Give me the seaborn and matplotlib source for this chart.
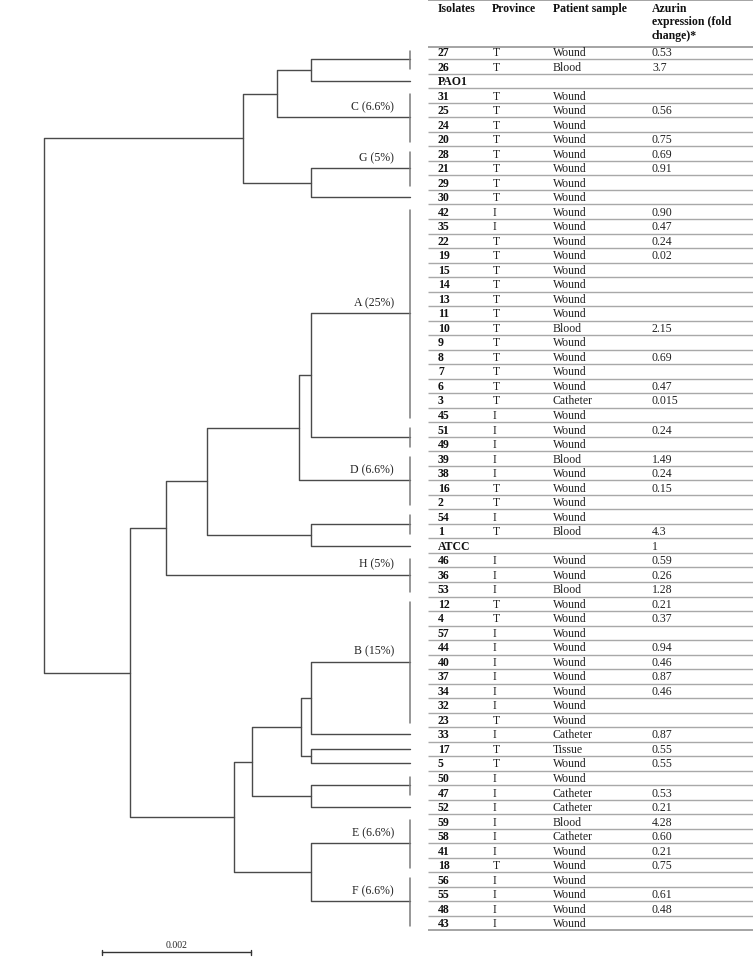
import numpy as np
import pandas as pd
import matplotlib.pyplot as plt
import seaborn as sns

# table rows, top to bottom (same order as the tree leaves)
isolates = ['27', '26', 'PAO1', '31', '25', '24', '20', '28', '21', '29', '30',
            '42', '35', '22', '19', '15', '14', '13', '11', '10', '9', '8', '7',
            '6', '3', '45', '51', '49', '39', '38', '16', '2', '54', '1', 'ATCC',
            '46', '36', '53', '12', '4', '57', '44', '40', '37', '34', '32', '23',
            '33', '17', '5', '50', '47', '52', '59', '58', '41', '18', '56', '55',
            '48', '43']
province = ['T', 'T', '', 'T', 'T', 'T', 'T', 'T', 'T', 'T', 'T',
            'I', 'I', 'T', 'T', 'T', 'T', 'T', 'T', 'T', 'T', 'T', 'T',
            'T', 'T', 'I', 'I', 'I', 'I', 'I', 'T', 'T', 'I', 'T', '',
            'I', 'I', 'I', 'T', 'T', 'I', 'I', 'I', 'I', 'I', 'I', 'T',
            'I', 'T', 'T', 'I', 'I', 'I', 'I', 'I', 'I', 'T', 'I', 'I',
            'I', 'I']
sample = ['Wound', 'Blood', '', 'Wound', 'Wound', 'Wound', 'Wound', 'Wound', 'Wound', 'Wound', 'Wound',
          'Wound', 'Wound', 'Wound', 'Wound', 'Wound', 'Wound', 'Wound', 'Wound', 'Blood', 'Wound', 'Wound', 'Wound',
          'Wound', 'Catheter', 'Wound', 'Wound', 'Wound', 'Blood', 'Wound', 'Wound', 'Wound', 'Wound', 'Blood', '',
          'Wound', 'Wound', 'Blood', 'Wound', 'Wound', 'Wound', 'Wound', 'Wound', 'Wound', 'Wound', 'Wound', 'Wound',
          'Catheter', 'Tissue', 'Wound', 'Wound', 'Catheter', 'Catheter', 'Blood', 'Catheter', 'Wound', 'Wound', 'Wound', 'Wound',
          'Wound', 'Wound']
azurin = ['0.53', '3.7', '', '', '0.56', '', '0.75', '0.69', '0.91', '', '',
          '0.90', '0.47', '0.24', '0.02', '', '', '', '', '2.15', '', '0.69', '',
          '0.47', '0.015', '', '0.24', '', '1.49', '0.24', '0.15', '', '', '4.3', '1',
          '0.59', '0.26', '1.28', '0.21', '0.37', '', '0.94', '0.46', '0.87', '0.46', '', '',
          '0.87', '0.55', '0.55', '', '0.53', '0.21', '4.28', '0.60', '0.21', '0.75', '', '0.61',
          '0.48', '']

# tree leaves = groups of consecutive rows (identical isolates collapsed)
leaf_sizes = [2, 1, 4, 3, 1, 15, 2, 4, 2, 1, 3, 9, 1, 1, 1, 2, 1, 4, 4]
cluster_names = {2: 'C (6.6%)', 3: 'G (5%)', 5: 'A (25%)', 7: 'D (6.6%)',
                 10: 'H (5%)', 11: 'B (15%)', 17: 'E (6.6%)', 18: 'F (6.6%)'}

# merges: (child a, child b, height in units of 0.001); new node ids start at 19
merges = [(0, 1, 1.33), (19, 2, 1.78), (3, 4, 1.33), (20, 21, 2.24),
          (5, 6, 1.33), (23, 7, 1.49), (8, 9, 1.33), (24, 25, 2.73),
          (26, 10, 3.28), (11, 12, 1.33), (13, 14, 1.33), (28, 29, 1.46),
          (15, 16, 1.33), (30, 31, 2.12), (17, 18, 1.33), (32, 33, 2.36),
          (27, 34, 3.76), (22, 35, 4.91)]
scale_len = 0.002

sns.set_style('white')
plt.rcParams['font.family'] = ['Liberation Serif', 'DejaVu Serif']

# leaf positions from the row layout
starts = np.concatenate([[0], np.cumsum(leaf_sizes)[:-1]])
ends = starts + np.array(leaf_sizes) - 1
node_y = list((starts + ends) / 2.0)
node_h = [0.0] * len(leaf_sizes)

segs = []
for k, (a, b, h) in enumerate(merges):
    h = h * 1e-3
    xs = [-node_h[a], -h, -h, -node_h[b]]
    ys = [node_y[a], node_y[a], node_y[b], node_y[b]]
    for i, (x, y) in enumerate(zip(xs, ys)):
        segs.append({'seg': k, 'order': i, 'x': x, 'y': y})
    node_y.append((node_y[a] + node_y[b]) / 2.0)
    node_h.append(h)
tree_df = pd.DataFrame(segs)

bars = []
for k, (s, e) in enumerate(zip(starts, ends)):
    if e > s:
        bars.append({'seg': k, 'x': 0.0, 'y': s - 0.1})
        bars.append({'seg': k, 'x': 0.0, 'y': e + 0.2})
bar_df = pd.DataFrame(bars)

W, H = 753, 979
fig = plt.figure(figsize=(W / 100, H / 100), dpi=100)
px = 74500.0  # pixels per unit distance
row0, rowstep = 53.0, 14.52
ylim = ((H - row0) / rowstep, -row0 / rowstep)

ax = fig.add_axes([0, 0, 1, 1])
sns.lineplot(data=tree_df, x='x', y='y', units='seg', estimator=None, sort=False,
             color='#4a4a4a', linewidth=1.0, ax=ax)
sns.lineplot(data=bar_df, x='x', y='y', units='seg', estimator=None, sort=False,
             color='#7a7a7a', linewidth=1.1, ax=ax)
ax.set_xlim(-410 / px, (W - 410) / px)
ax.set_ylim(*ylim)
ax.axis('off')

for k, name in cluster_names.items():
    ax.text(-16 / px, node_y[k] - 0.35, name, ha='right', va='bottom', fontsize=8.5, color='#222222')

# scale bar
sb_x0 = -308 / px
sb_y = (953 - row0) / rowstep
ax.plot([sb_x0, sb_x0 + scale_len], [sb_y, sb_y], color='#333333', lw=1.0)
for xx in (sb_x0, sb_x0 + scale_len):
    ax.plot([xx, xx], [sb_y - 0.15, sb_y + 0.2], color='#333333', lw=1.0)
ax.text(sb_x0 + scale_len / 2, sb_y - 0.2, '%g' % scale_len, ha='center', va='bottom', fontsize=7)

# table
tb = fig.add_axes([0, 0, 1, 1])
tb.set_xlim(0, W)
tb.set_ylim(*ylim)
tb.axis('off')
col_x = [438, 492, 553, 652]
hdr_y = (3 - row0) / rowstep
for cx, lab in zip(col_x, ['Isolates', 'Province', 'Patient sample',
                           'Azurin\nexpression (fold\nchange)*']):
    tb.text(cx, hdr_y, lab, ha='left', va='top', fontsize=8.5, fontweight='bold',
            linespacing=1.15, color='#111111')
n = len(isolates)
rows = np.arange(n)
for r in rows:
    tb.text(col_x[0], r, isolates[r], ha='left', va='center', fontsize=8.5, fontweight='bold', color='#111111')
    tb.text(col_x[1] + 1, r, province[r], ha='left', va='center', fontsize=8.5, color='#222222')
    tb.text(col_x[2], r, sample[r], ha='left', va='center', fontsize=8.5, color='#222222')
    tb.text(col_x[3], r, azurin[r], ha='left', va='center', fontsize=8.5, color='#222222')
tb.hlines(rows[:-1] + 0.5, 428, W, color='#a8a8a8', lw=1.0)
tb.hlines([(1 - row0) / rowstep, -0.35, n - 0.5], 428, W, color='#8c8c8c', lw=1.1)

fig.savefig('out.png', dpi=100)
